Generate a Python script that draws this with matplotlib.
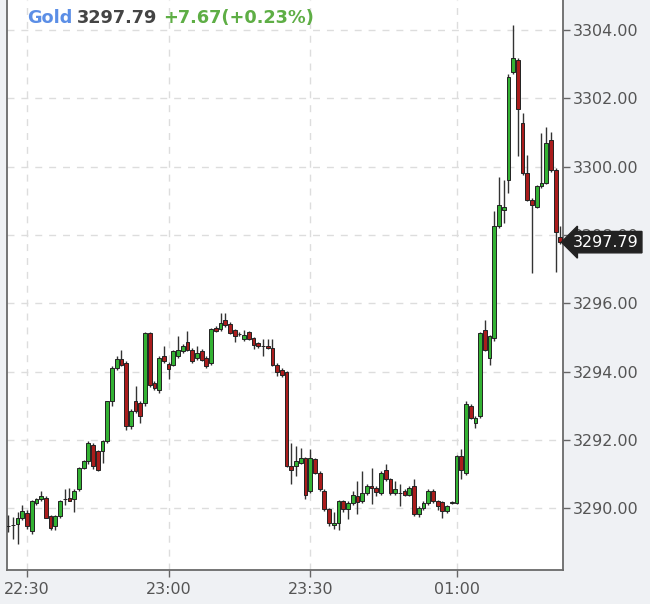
import numpy as np
import pandas as pd
import matplotlib
matplotlib.use("Agg")
import matplotlib.pyplot as plt
import matplotlib.transforms as mtransforms

# one-minute bars, session break after 00:00
times = (list(pd.date_range("2025-01-01 22:26", "2025-01-02 00:00", freq="1min").strftime("%H:%M"))
         + list(pd.date_range("2025-01-02 01:00", "2025-01-02 01:22", freq="1min").strftime("%H:%M")))

open_ = [3289.48, 3289.50, 3289.53, 3289.72, 3289.87, 3289.33, 3290.16, 3290.26, 3290.30, 3289.77,
         3289.48, 3289.77, 3290.28, 3290.30, 3290.26, 3290.55, 3291.18, 3291.38, 3291.86, 3291.67,
         3291.67, 3291.96, 3293.13, 3294.11, 3294.37, 3294.25, 3292.42, 3293.13, 3293.08, 3293.08,
         3295.13, 3293.67, 3293.47, 3294.45, 3294.23, 3294.20, 3294.45, 3294.59, 3294.86, 3294.64,
         3294.40, 3294.59, 3294.40, 3294.25, 3295.28, 3295.25, 3295.50, 3295.40, 3295.21, 3295.10,
         3294.94, 3295.15, 3294.98, 3294.84, 3294.74, 3294.76, 3294.69, 3294.20, 3294.06, 3293.98,
         3291.23, 3291.23, 3291.33, 3291.47, 3290.50, 3291.43, 3291.04, 3290.50, 3289.97, 3289.50,
         3289.58, 3290.20, 3289.97, 3290.16, 3290.35, 3290.20, 3290.45, 3290.65, 3290.60, 3290.45,
         3291.13, 3290.84, 3290.45, 3290.45, 3290.50, 3290.40, 3290.65, 3289.82, 3290.00, 3290.16,
         3290.50, 3290.20, 3290.18, 3289.92, 3290.16, 3290.16, 3291.52, 3291.04, 3292.99, 3292.50,
         3292.70, 3295.23, 3294.40, 3294.98, 3298.25, 3298.74, 3299.61, 3302.78, 3303.12, 3301.27,
         3299.81, 3299.03, 3298.83, 3299.42, 3299.52, 3300.78, 3299.91, 3297.94]
high = [3289.80, 3289.75, 3289.90, 3290.10, 3289.95, 3290.25, 3290.30, 3290.50, 3290.35, 3289.80,
        3289.80, 3290.25, 3290.55, 3290.60, 3290.55, 3291.20, 3291.40, 3291.96, 3291.90, 3291.70,
        3292.00, 3293.15, 3294.15, 3294.45, 3294.64, 3294.30, 3292.90, 3293.59, 3293.15, 3295.15,
        3295.15, 3293.72, 3294.45, 3294.74, 3294.28, 3294.62, 3295.03, 3294.80, 3295.18, 3294.70,
        3294.74, 3294.65, 3294.45, 3295.28, 3295.32, 3295.72, 3295.72, 3295.45, 3295.25, 3295.15,
        3295.23, 3295.20, 3295.02, 3294.88, 3294.94, 3294.94, 3294.94, 3294.25, 3294.10, 3294.02,
        3291.90, 3291.82, 3291.77, 3291.50, 3291.72, 3291.48, 3291.08, 3290.55, 3290.00, 3289.90,
        3290.25, 3290.25, 3290.20, 3290.50, 3290.79, 3291.08, 3290.70, 3291.18, 3290.65, 3291.08,
        3291.28, 3290.88, 3290.79, 3290.70, 3290.55, 3290.65, 3290.84, 3290.05, 3290.20, 3290.55,
        3290.55, 3290.25, 3290.22, 3290.10, 3290.22, 3291.55, 3291.72, 3293.13, 3293.05, 3292.70,
        3295.15, 3295.52, 3295.08, 3298.69, 3299.71, 3299.61, 3302.70, 3304.15, 3303.17, 3301.56,
        3300.34, 3299.08, 3299.45, 3300.98, 3301.17, 3301.02, 3299.95, 3298.25]
low = [3289.30, 3289.10, 3288.94, 3289.65, 3289.40, 3289.25, 3290.10, 3290.20, 3289.70, 3289.35,
       3289.35, 3289.70, 3290.10, 3290.20, 3289.90, 3290.50, 3291.15, 3291.30, 3291.15, 3291.10,
       3291.33, 3291.90, 3292.98, 3294.05, 3294.15, 3292.30, 3292.32, 3292.80, 3292.48, 3293.00,
       3293.55, 3293.45, 3293.37, 3294.25, 3293.77, 3294.15, 3294.40, 3294.55, 3294.60, 3294.25,
       3294.35, 3294.30, 3294.10, 3294.20, 3295.15, 3295.20, 3295.30, 3295.10, 3294.86, 3295.05,
       3294.90, 3294.92, 3294.66, 3294.70, 3294.45, 3294.65, 3294.16, 3293.86, 3293.85, 3291.20,
       3290.70, 3290.94, 3291.30, 3290.26, 3290.45, 3291.00, 3290.50, 3289.92, 3289.48, 3289.40,
       3289.35, 3289.90, 3289.67, 3290.10, 3289.82, 3290.15, 3290.40, 3290.11, 3290.35, 3290.40,
       3290.80, 3290.40, 3290.40, 3290.06, 3290.35, 3290.35, 3289.78, 3289.75, 3289.95, 3290.10,
       3290.15, 3289.96, 3289.72, 3289.85, 3290.12, 3290.12, 3290.84, 3290.98, 3292.60, 3292.35,
       3292.65, 3294.60, 3294.20, 3294.90, 3298.20, 3298.35, 3299.22, 3302.70, 3300.30, 3299.75,
       3299.00, 3296.88, 3298.80, 3299.38, 3299.48, 3299.85, 3296.93, 3297.75]
close = [3289.48, 3289.50, 3289.72, 3289.92, 3289.48, 3290.21, 3290.26, 3290.37, 3289.72, 3289.43,
         3289.77, 3290.21, 3290.28, 3290.22, 3290.50, 3291.18, 3291.38, 3291.91, 3291.23, 3291.13,
         3291.96, 3293.13, 3294.11, 3294.37, 3294.20, 3292.42, 3292.84, 3292.84, 3292.70, 3295.13,
         3293.62, 3293.52, 3294.40, 3294.30, 3294.08, 3294.59, 3294.64, 3294.74, 3294.64, 3294.30,
         3294.55, 3294.35, 3294.16, 3295.25, 3295.18, 3295.42, 3295.35, 3295.13, 3295.05, 3295.10,
         3295.08, 3294.95, 3294.79, 3294.74, 3294.74, 3294.69, 3294.20, 3294.00, 3293.91, 3291.23,
         3291.13, 3291.38, 3291.47, 3290.40, 3291.47, 3291.04, 3290.55, 3289.97, 3289.58, 3289.58,
         3290.20, 3289.97, 3290.16, 3290.40, 3290.18, 3290.45, 3290.65, 3290.60, 3290.47, 3291.04,
         3290.84, 3290.45, 3290.55, 3290.45, 3290.40, 3290.60, 3289.82, 3290.00, 3290.16, 3290.50,
         3290.20, 3290.06, 3289.92, 3290.06, 3290.18, 3291.52, 3291.13, 3293.04, 3292.65, 3292.65,
         3295.13, 3294.64, 3295.03, 3298.25, 3298.88, 3298.83, 3302.63, 3303.17, 3301.68, 3299.81,
         3299.03, 3298.88, 3299.42, 3299.52, 3300.69, 3299.91, 3298.10, 3297.79]

tick_labels = ["22:30", "23:00", "23:30", "01:00"]
y_ticks = [3290, 3292, 3294, 3296, 3298, 3300, 3302, 3304]
last_price = 3297.79
change = "+7.67(+0.23%)"

W, H = 650, 604
fig = plt.figure(figsize=(W / 100, H / 100), dpi=100)
fig.patch.set_facecolor("#eff1f4")
ax = fig.add_axes([7 / W, 34 / H, 556 / W, 570 / H])
ax.set_facecolor("white")

x = np.arange(len(times))
o = np.array(open_)
c = np.array(close)
colors = np.where(c > o, "#33b233", np.where(c < o, "#aa1c1c", "#333333"))

ax.vlines(x, low, high, color="#333333", lw=1, zorder=3)
ax.bar(x, np.abs(c - o), bottom=np.minimum(o, c), width=0.8, color=colors,
       edgecolor="#222222", linewidth=0.7, zorder=4)

ax.set_xlim(-0.24, len(times) - 0.44)
ax.set_ylim(3288.19, 3304.88)

ax.set_xticks([times.index(t) for t in tick_labels], tick_labels)
ax.yaxis.tick_right()
ax.set_yticks(y_ticks, [f"{v:.2f}" for v in y_ticks])
ax.tick_params(axis="y", direction="out", length=5, width=1, colors="#666666",
               labelcolor="#555555", labelsize=11.5, pad=2)
ax.tick_params(axis="x", direction="out", length=5, width=1, colors="#666666",
               labelcolor="#555555", labelsize=11.5, pad=4)
ax.grid(True, ls=(0, (5, 5)), color="#dddddd", lw=1, zorder=0)
ax.set_axisbelow(True)

ax.spines["top"].set_visible(False)
for s in ["left", "bottom", "right"]:
    ax.spines[s].set_color("#6a6a6a")
    ax.spines[s].set_linewidth(1.3)

# last price tag on the right axis
off = mtransforms.ScaledTranslation(10 / 100, 0, fig.dpi_scale_trans)
trans = mtransforms.blended_transform_factory(ax.transAxes, ax.transData) + off
ax.text(1.0, last_price, f"{last_price:.2f}", transform=trans, color="white",
        fontsize=11.5, va="center", ha="left", clip_on=False, zorder=10,
        bbox=dict(boxstyle="larrow,pad=0.2", fc="#222222", ec="#222222"))

# header
base = 1 - 23 / H
fig.text(27 / W, base, "Gold", color="#5b8ee6", fontsize=12.8, fontweight="bold", va="baseline")
fig.text(77 / W, base, f"{last_price:.2f}", color="#444444", fontsize=12.8, fontweight="bold", va="baseline")
fig.text(163 / W, base, change, color="#5eae45", fontsize=12.8, fontweight="bold", va="baseline")

fig.savefig("out.png", dpi=100, facecolor=fig.get_facecolor())
